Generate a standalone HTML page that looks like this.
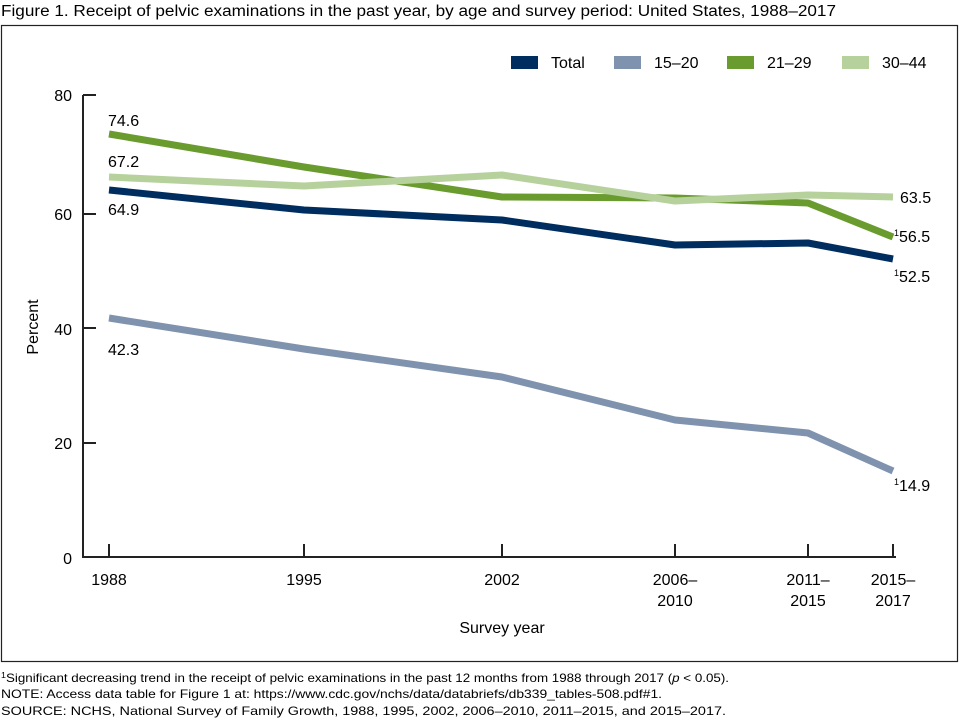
<!DOCTYPE html>
<html><head><meta charset="utf-8"><style>body{margin:0;background:#fff}svg{display:block}</style></head>
<body>
<svg width="960" height="720" viewBox="0 0 960 720" xmlns="http://www.w3.org/2000/svg" font-family="Liberation Sans, Arial, sans-serif">
<rect width="960" height="720" fill="#fff"/>
<text x="1" y="16" font-size="15.5" fill="#000" textLength="835" lengthAdjust="spacingAndGlyphs">Figure 1. Receipt of pelvic examinations in the past year, by age and survey period: United States, 1988–2017</text>
<rect x="1.5" y="25.5" width="956" height="636" fill="none" stroke="#222" stroke-width="1.2"/>
<g font-size="16" fill="#000">
<rect x="511" y="56" width="27" height="13" fill="#002d5f"/><text x="551" y="68">Total</text>
<rect x="614" y="56" width="27" height="13" fill="#7f93ae"/><text x="654" y="68">15–20</text>
<rect x="727" y="56" width="27" height="13" fill="#6a9b2f"/><text x="767" y="68">21–29</text>
<rect x="842" y="56" width="27" height="13" fill="#b6d19c"/><text x="882" y="68">30–44</text>
</g>
<g stroke="#222" stroke-width="2" fill="none">
<path d="M83,95 V557 H896"/>
<path d="M83,95 H96 M83,214 H96 M83,328 H96 M83,443 H96"/>
<path d="M109,557 V544 M304,557 V544 M502,557 V544 M675,557 V544 M808,557 V544 M893,557 V544"/>
</g>
<g font-size="16" fill="#000" text-anchor="end">
<text x="72" y="101">80</text><text x="72" y="220">60</text><text x="72" y="335">40</text><text x="72" y="449">20</text><text x="72" y="564">0</text>
</g>
<g font-size="16" fill="#000" text-anchor="middle">
<text x="109" y="585">1988</text><text x="304" y="585">1995</text><text x="502" y="585">2002</text>
<text x="675" y="585">2006–</text><text x="675" y="606">2010</text>
<text x="808" y="585">2011–</text><text x="808" y="606">2015</text>
<text x="893" y="585">2015–</text><text x="893" y="606">2017</text>
<text x="502" y="633">Survey year</text>
</g>
<text transform="translate(38,327) rotate(-90)" font-size="16" text-anchor="middle">Percent</text>
<g fill="none" stroke-width="7" stroke-linejoin="round">
<polyline stroke="#7f93ae" points="109,318 304,349 502,377 675,420 808,433 893,471"/>
<polyline stroke="#002d5f" points="109,190 304,210 502,220 675,245 808,243 893,259"/>
<polyline stroke="#6a9b2f" points="109,134 304,167 502,197 675,198 808,203 893,237"/>
<polyline stroke="#b6d19c" points="109,177 304,186 502,175 675,201 808,195 893,197"/>
</g>
<g font-size="16" fill="#000">
<text x="108" y="126">74.6</text><text x="108" y="167">67.2</text><text x="108" y="215">64.9</text><text x="108" y="355">42.3</text>
<text x="900" y="203">63.5</text>
<text x="894" y="242"><tspan font-size="9" dy="-6">1</tspan><tspan dy="6">56.5</tspan></text>
<text x="894" y="282"><tspan font-size="9" dy="-6">1</tspan><tspan dy="6">52.5</tspan></text>
<text x="894" y="491"><tspan font-size="9" dy="-6">1</tspan><tspan dy="6">14.9</tspan></text>
</g>
<g font-size="12" fill="#000">
<text x="1" y="682" textLength="728" lengthAdjust="spacingAndGlyphs"><tspan font-size="8" dy="-4">1</tspan><tspan dy="4">Significant decreasing trend in the receipt of pelvic examinations in the past 12 months  from 1988 through 2017 (</tspan><tspan font-style="italic">p</tspan> &lt; 0.05).</text>
<text x="1" y="698" textLength="661" lengthAdjust="spacingAndGlyphs">NOTE: Access data table for Figure 1 at: https://www.cdc.gov/nchs/data/databriefs/db339_tables-508.pdf#1.</text>
<text x="1" y="715" textLength="725" lengthAdjust="spacingAndGlyphs">SOURCE: NCHS, National Survey of Family Growth, 1988, 1995, 2002, 2006–2010, 2011–2015, and 2015–2017.</text>
</g>
</svg>
</body></html>
